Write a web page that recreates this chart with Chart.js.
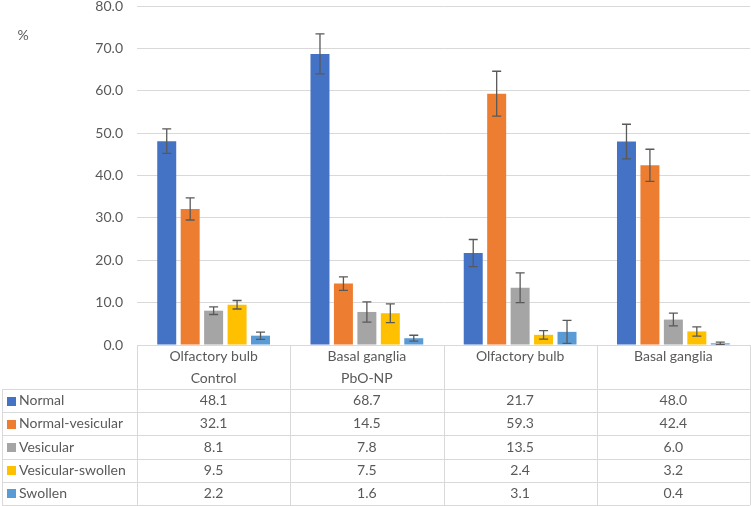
<!DOCTYPE html>
<html>
<head>
<meta charset="utf-8">
<script src="https://cdn.jsdelivr.net/npm/chart.js@4.4.1/dist/chart.umd.min.js"></script>
<style>
  html, body { margin: 0; padding: 0; background: #fff; }
  #wrap { width: 751px; height: 506px; position: relative; }
</style>
</head>
<body>
<div id="wrap"><canvas id="chart"></canvas></div>
<script>
// categories (two header rows of the data table)
const regions = ["Olfactory bulb", "Basal ganglia", "Olfactory bulb", "Basal ganglia"];
const groups = ["Control", "PbO-NP", "", ""];
const seriesNames = ["Normal", "Normal-vesicular", "Vesicular", "Vesicular-swollen", "Swollen"];

// series values (%)
const normal = [48.1, 68.7, 21.7, 48.0];
const normalVesicular = [32.1, 14.5, 59.3, 42.4];
const vesicular = [8.1, 7.8, 13.5, 6.0];
const vesicularSwollen = [9.5, 7.5, 2.4, 3.2];
const swollen = [2.2, 1.6, 3.1, 0.4];

// error bar half-lengths
const errNormal = [2.9, 4.7, 3.2, 4.1];
const errNormalVesicular = [2.6, 1.6, 5.3, 3.8];
const errVesicular = [0.9, 2.4, 3.5, 1.5];
const errVesicularSwollen = [1.0, 2.2, 1.0, 1.1];
const errSwollen = [0.85, 0.7, 2.7, 0.3];

const yMin = 0, yMax = 80, yStep = 10;

const colors = ["#4472C4", "#ED7D31", "#A5A5A5", "#FFC000", "#5B9BD5"];
const values = [normal, normalVesicular, vesicular, vesicularSwollen, swollen];
const errors = [errNormal, errNormalVesicular, errVesicular, errVesicularSwollen, errSwollen];

const FONT = "Lato, 'Noto Sans', sans-serif";
const FSIZE = 14;
const TEXT = "#595959";
const LINE = "#d9d9d9";

// whiskers
const errorBars = {
  id: "errorBars",
  afterDatasetsDraw(chart) {
    const ctx = chart.ctx;
    const y = chart.scales.y;
    ctx.save();
    ctx.strokeStyle = "#595959";
    ctx.lineWidth = 1.3;
    chart.data.datasets.forEach((ds, i) => {
      const meta = chart.getDatasetMeta(i);
      meta.data.forEach((bar, j) => {
        const v = ds.data[j], e = errors[i][j];
        const top = y.getPixelForValue(v + e);
        const bot = y.getPixelForValue(Math.max(0, v - e));
        const cap = 4.5;
        ctx.beginPath();
        ctx.moveTo(bar.x, top); ctx.lineTo(bar.x, bot);
        ctx.moveTo(bar.x - cap, top); ctx.lineTo(bar.x + cap, top);
        ctx.moveTo(bar.x - cap, bot); ctx.lineTo(bar.x + cap, bot);
        ctx.stroke();
      });
    });
    ctx.restore();
  }
};

// data table under the plot
const dataTable = {
  id: "dataTable",
  afterDraw(chart) {
    const ctx = chart.ctx;
    const a = chart.chartArea;
    const n = regions.length;
    const colW = (a.right - a.left) / n;
    const top = a.bottom;
    const headH = 44;
    const rowH = 23.2;
    const tableLeft = 2;
    const bottom = top + headH + rowH * seriesNames.length;
    const px = v => Math.round(v) + 0.5;

    ctx.save();
    ctx.strokeStyle = LINE;
    ctx.lineWidth = 1;
    ctx.beginPath();
    // top border over the category columns
    ctx.moveTo(a.left, px(top)); ctx.lineTo(a.right, px(top));
    // horizontal row lines
    for (let r = 0; r <= seriesNames.length; r++) {
      const yy = px(top + headH + r * rowH);
      ctx.moveTo(tableLeft, yy); ctx.lineTo(a.right, yy);
    }
    // vertical lines
    for (let c = 0; c <= n; c++) {
      const xx = px(a.left + c * colW);
      ctx.moveTo(xx, top); ctx.lineTo(xx, bottom);
    }
    ctx.moveTo(px(tableLeft), top + headH); ctx.lineTo(px(tableLeft), bottom);
    ctx.stroke();

    ctx.fillStyle = TEXT;
    ctx.font = FSIZE + "px " + FONT;
    ctx.textAlign = "center";
    ctx.textBaseline = "middle";
    for (let c = 0; c < n; c++) {
      const cx = a.left + (c + 0.5) * colW;
      ctx.fillText(regions[c], cx, top + 11);
      if (groups[c]) ctx.fillText(groups[c], cx, top + 33);
      values.forEach((vals, r) => {
        ctx.fillText(vals[c].toFixed(1), cx, top + headH + (r + 0.5) * rowH);
      });
    }
    ctx.textAlign = "left";
    seriesNames.forEach((name, r) => {
      const cy = top + headH + (r + 0.5) * rowH;
      ctx.fillStyle = colors[r];
      ctx.fillRect(7, Math.round(cy - 4), 9, 9);
      ctx.fillStyle = TEXT;
      ctx.fillText(name, 19, cy);
    });
    ctx.restore();
  }
};

// "%" unit label top-left
const unitLabel = {
  id: "unitLabel",
  afterDraw(chart) {
    const ctx = chart.ctx;
    ctx.save();
    ctx.fillStyle = TEXT;
    ctx.font = FSIZE + "px " + FONT;
    ctx.textAlign = "center";
    ctx.textBaseline = "middle";
    ctx.fillText("%", 23, chart.chartArea.top + 29);
    ctx.restore();
  }
};

new Chart(document.getElementById("chart"), {
  type: "bar",
  data: {
    labels: regions,
    datasets: seriesNames.map((name, i) => ({
      label: name,
      data: values[i],
      backgroundColor: colors[i],
      borderWidth: 0,
      categoryPercentage: 0.765,
      barPercentage: 0.81
    }))
  },
  options: {
    responsive: true,
    maintainAspectRatio: false,
    animation: false,
    layout: { padding: { top: 6, right: 1, bottom: 161, left: 0 } },
    plugins: { legend: { display: false }, tooltip: { enabled: false } },
    scales: {
      x: { display: false },
      y: {
        min: yMin,
        max: yMax,
        ticks: {
          stepSize: yStep,
          padding: 14,
          color: TEXT,
          font: { family: FONT, size: FSIZE },
          callback: v => v.toFixed(1)
        },
        grid: { color: LINE, drawTicks: false },
        border: { display: false },
        afterFit: s => { s.width = 137; s.paddingTop = 0; s.paddingBottom = 0; }
      }
    }
  },
  plugins: [errorBars, dataTable, unitLabel]
});
</script>
</body>
</html>
